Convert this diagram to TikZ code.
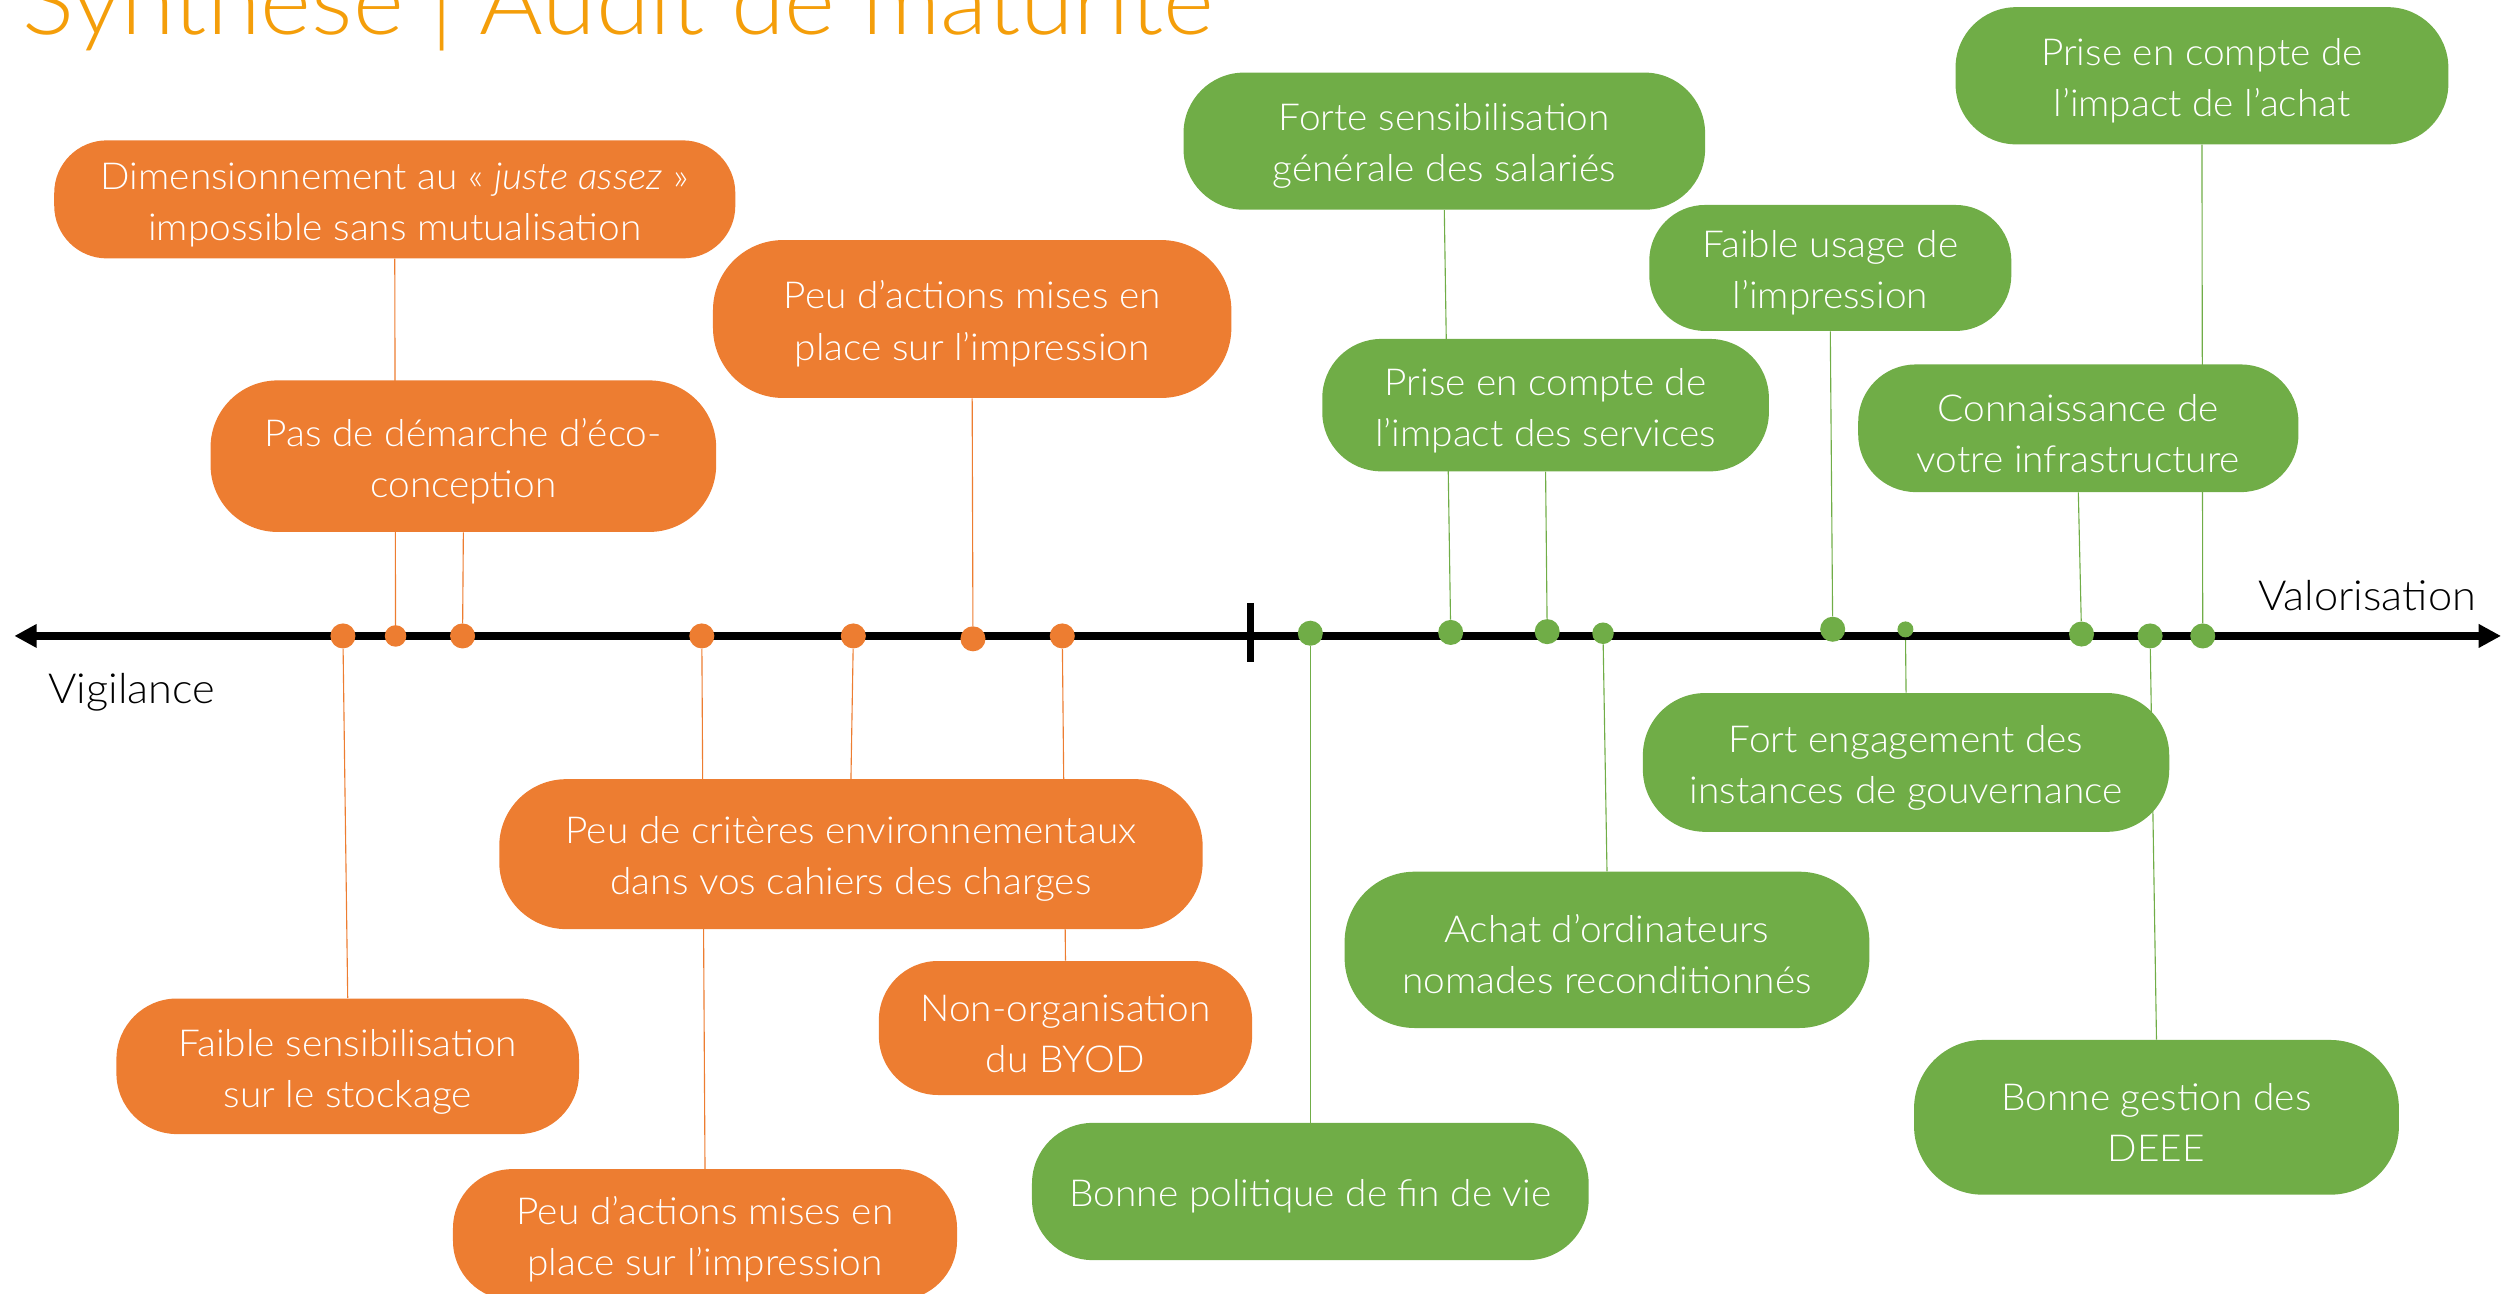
\documentclass[tikz,border=0pt]{standalone}
\usepackage{fontspec}
\IfFontExistsTF{Lato Light}
 {\setmainfont{Lato Light}[FakeStretch=1.045, ItalicFont={Lato Light Italic}]}
 {\setmainfont{Lato}[FakeStretch=1.045]}
\usetikzlibrary{arrows.meta}
\definecolor{org}{HTML}{ED7D31}
\definecolor{grn}{HTML}{70AD47}
\definecolor{ttl}{HTML}{F49E0A}
\pgfdeclarelayer{bg}
\pgfsetlayers{bg,main}
\newcommand\bx{\rule{0pt}{23.5pt}}
\begin{document}
\begin{tikzpicture}[x=1pt,y=-1pt,
 box/.style={text=white, align=center, inner sep=0pt, font=\fontsize{23.3}{32}\selectfont},
 obox/.style={box, fill=org},
 gbox/.style={box, fill=grn},
 oline/.style={draw=org, line width=0.7pt},
 gline/.style={draw=grn, line width=0.7pt},
 odot/.style={circle, fill=org, inner sep=0pt, minimum size=15.7pt},
 gdot/.style={circle, fill=grn, inner sep=0pt, minimum size=15.7pt},
 lab/.style={font=\fontsize{26}{31}\selectfont, inner sep=0pt, anchor=base west},
 axisline/.style={line width=5.4pt, {Triangle[length=14pt,width=14pt]}-{Triangle[length=14pt,width=14pt]}}]
\useasboundingbox (0,0) rectangle (1568,811);

% title
\node[anchor=base west, text=ttl, font=\fontsize{58.4}{64}\selectfont, inner sep=0pt] (title) at (14,21.5) {Synthèse | Audit de maturité};

% axis labels
\node[lab] (vig) at (30,441) {Vigilance};
\node[lab] (val) at (1415.7,382.5) {Valorisation};

% axis coordinates and dots
\coordinate (axL) at (9,398.7);
\coordinate (axR) at (1568,398.7);
\coordinate (tickT) at (784,378);
\coordinate (tickB) at (784,415);
\node[odot] (d1) at (215,398.7) {};
\node[odot, minimum size=13.5pt] (d2) at (248,398.7) {};
\node[odot] (d3) at (290,398.7) {};
\node[odot] (d4) at (440,398.7) {};
\node[odot] (d5) at (535,398.7) {};
\node[odot] (d6) at (610,400.5) {};
\node[odot] (d7) at (666,398.7) {};
\node[gdot] (g1) at (821.5,397) {};
\node[gdot] (g2) at (909.5,396.5) {};
\node[gdot] (g3) at (970,396) {};
\node[gdot, minimum size=13.5pt] (g4) at (1005,397) {};
\node[gdot] (g5) at (1149,394.5) {};
\node[gdot, minimum size=10pt] (g6) at (1194.6,394.6) {};
\node[gdot] (g7) at (1305,397.5) {};
\node[gdot] (g8) at (1348,398.7) {};
\node[gdot] (g9) at (1381,398.7) {};

% boxes
\path
 node[obox, minimum width=427pt, minimum height=74pt, rounded corners=33pt] (b1) at (247.5,125) {\bx Dimensionnement au « \textit{juste assez} »\\impossible sans mutualisation}
 node[obox, minimum width=317pt, minimum height=95pt, rounded corners=42pt] (b2) at (290.5,286) {\bx Pas de démarche d’éco-\\conception}
 node[obox, minimum width=325pt, minimum height=99pt, rounded corners=44pt] (b3) at (609.5,200) {\bx Peu d’actions mises en\\place sur l’impression}
 node[obox, minimum width=441pt, minimum height=94pt, rounded corners=42pt] (b4) at (533.5,535.5) {\bx Peu de critères environnementaux\\dans vos cahiers des charges}
 node[obox, minimum width=234pt, minimum height=84pt, rounded corners=37pt] (b5) at (668,644.5) {\bx Non-organisation\\du BYOD}
 node[obox, minimum width=290pt, minimum height=85pt, rounded corners=38pt] (b6) at (218,668.5) {\bx Faible sensibilisation\\sur le stockage}
 node[obox, minimum width=316pt, minimum height=82pt, rounded corners=37pt] (b7) at (442,774) {\bx Peu d’actions mises en\\place sur l’impression}
 node[gbox, minimum width=327pt, minimum height=86pt, rounded corners=38pt] (gA) at (905.5,88.5) {\bx Forte sensibilisation\\générale des salariés}
 node[gbox, minimum width=280pt, minimum height=83pt, rounded corners=37pt] (gB) at (969,254) {\bx Prise en compte de\\l’impact des services}
 node[gbox, minimum width=227pt, minimum height=79pt, rounded corners=35pt] (gC) at (1147.5,168) {\bx Faible usage de\\l’impression}
 node[gbox, minimum width=309pt, minimum height=86pt, rounded corners=38pt] (gD) at (1380.5,47.5) {\bx Prise en compte de\\l’impact de l’achat}
 node[gbox, minimum width=276pt, minimum height=80pt, rounded corners=36pt] (gE) at (1303,268.5) {\bx Connaissance de\\votre infrastructure}
 node[gbox, minimum width=330pt, minimum height=87pt, rounded corners=39pt] (gF) at (1195,478) {\bx Fort engagement des\\instances de gouvernance}
 node[gbox, minimum width=329pt, minimum height=98pt, rounded corners=44pt] (gG) at (1007.5,595.5) {\bx Achat d’ordinateurs\\nomades reconditionnés}
 node[gbox, minimum width=304pt, minimum height=97pt, rounded corners=43pt] (gH) at (1352,700.5) {\bx Bonne gestion des\\DEEE}
 node[gbox, minimum width=349pt, minimum height=86pt, rounded corners=38pt] (gI) at (821.5,747) {\bx Bonne politique de fin de vie};

% connectors and axis behind boxes and dots
\begin{pgfonlayer}{bg}
 \draw[oline] (b1.south) -- (d2);
 \draw[oline] (b2.south) -- (d3);
 \draw[oline] (b3.south) -- (d6);
 \draw[oline] (b4.north) -- (d5);
 \draw[oline] (b5.north) -- (d7);
 \draw[oline] (b6.north) -- (d1);
 \draw[oline] (b7.north) -- (d4);
 \draw[gline] (gA.south) -- (g2);
 \draw[gline] (gB.south) -- (g3);
 \draw[gline] (gC.south) -- (g5);
 \draw[gline] (gD.south) -- (g9);
 \draw[gline] (gE.south) -- (g7);
 \draw[gline] (gF.north) -- (g6);
 \draw[gline] (gG.north) -- (g4);
 \draw[gline] (gH.north) -- (g8);
 \draw[gline] (gI.north) -- (g1);
 \draw[axisline] (axL) -- (axR);
 \draw[line width=4.6pt] (tickT) -- (tickB);
\end{pgfonlayer}
\end{tikzpicture}
\end{document}
